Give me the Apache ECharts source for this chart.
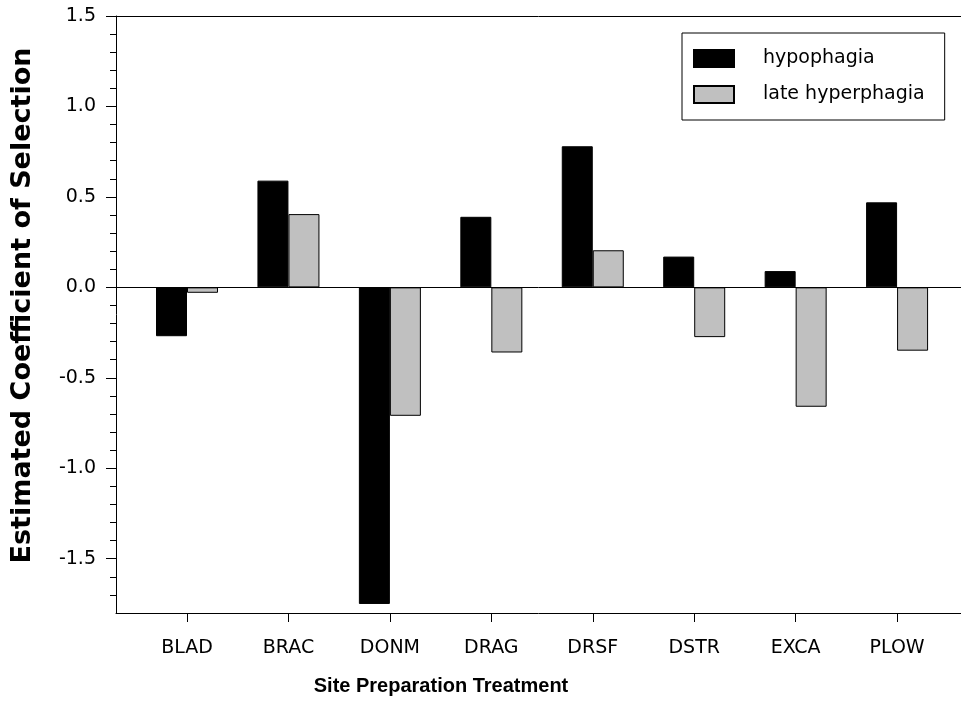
<!DOCTYPE html>
<html>
<head>
<meta charset="utf-8">
<title>Estimated Coefficient of Selection</title>
<script src="https://cdn.jsdelivr.net/npm/echarts@6/dist/echarts.min.js"></script>
<style>
  html, body { margin: 0; padding: 0; background: #fff; }
  #chart { width: 961px; height: 727px; }
</style>
</head>
<body>
<div id="chart"></div>
<script>
// treatments, placed at x = 1..8
const categories = ['BLAD', 'BRAC', 'DONM', 'DRAG', 'DRSF', 'DSTR', 'EXCA', 'PLOW'];
const hypophagia = [-0.27, 0.59, -1.75, 0.39, 0.78, 0.17, 0.09, 0.47];
const lateHyperphagia = [-0.03, 0.405, -0.71, -0.36, 0.205, -0.275, -0.66, -0.35];
const yMajor = [-1.5, -1.0, -0.5, 0.0, 0.5, 1.0, 1.5];
const yMinor = [-1.7, -1.6, -1.4, -1.3, -1.2, -1.1, -0.9, -0.8, -0.7, -0.6,
                -0.4, -0.3, -0.2, -0.1, 0.1, 0.2, 0.3, 0.4, 0.6, 0.7, 0.8, 0.9,
                1.1, 1.2, 1.3, 1.4];

// the reference text is wide, DejaVu gets closer than Arial
const font = '"DejaVu Sans", "Liberation Sans", Arial, sans-serif';
const titleFont = '"Liberation Sans", Arial, sans-serif';
const xPos = categories.map((c, i) => i + 1);

const chart = echarts.init(document.getElementById('chart'));

const option = {
    animation: false,
    backgroundColor: '#fff',
    textStyle: { fontFamily: font },
    grid: { left: 116, top: 16, right: 0, bottom: 114 },
    legend: {
        orient: 'vertical',
        left: 682,
        top: 33,
        padding: [16, 20, 16, 11],
        borderColor: '#000',
        borderWidth: 1,
        borderRadius: 0,
        itemWidth: 40,
        itemHeight: 17,
        itemGap: 17,
        icon: 'rect',
        textStyle: { fontSize: 19, color: '#000', fontFamily: font, padding: [0, 0, 0, 24] },
        data: ['hypophagia', 'late hyperphagia']
    },
    xAxis: [
        {
            type: 'value',
            min: 0.3,
            max: 8.63,
            axisLine: { onZero: false, lineStyle: { color: '#000', width: 1 } },
            axisTick: { customValues: xPos, length: 9, lineStyle: { color: '#000' } },
            axisLabel: {
                customValues: xPos,
                margin: 26,
                fontSize: 19,
                color: '#000',
                fontFamily: font,
                formatter: v => categories[Math.round(v) - 1] || ''
            },
            splitLine: { show: false }
        },
        {
            type: 'value',
            position: 'top',
            min: 0.3,
            max: 8.63,
            axisLine: { show: true, onZero: false, lineStyle: { color: '#000', width: 1 } },
            axisTick: { show: false },
            axisLabel: { show: false },
            splitLine: { show: false }
        }
    ],
    yAxis: [
        {
            type: 'value',
            min: -1.8,
            max: 1.5,
            name: 'Estimated Coefficient of Selection',
            nameLocation: 'middle',
            nameGap: 80,
            nameTextStyle: { fontSize: 27, fontWeight: 'bold', color: '#000', fontFamily: font, padding: [0, 0, 0, 18] },
            axisLine: { show: true, onZero: false, lineStyle: { color: '#000', width: 1 } },
            axisTick: { customValues: yMajor, length: 10, lineStyle: { color: '#000' } },
            axisLabel: {
                customValues: yMajor,
                margin: 20,
                fontSize: 19,
                color: '#000',
                fontFamily: font,
                formatter: v => v.toFixed(1)
            },
            splitLine: { show: false }
        },
        {
            type: 'value',
            min: -1.8,
            max: 1.5,
            position: 'left',
            axisLine: { show: false, onZero: false },
            axisTick: { customValues: yMinor, length: 6, lineStyle: { color: '#000' } },
            axisLabel: { show: false },
            splitLine: { show: false }
        }
    ],
    series: [
        {
            name: 'hypophagia',
            type: 'bar',
            barWidth: 31,
            barGap: '0%',
            itemStyle: { color: '#000', borderColor: '#000', borderWidth: 1 },
            data: xPos.map((x, i) => [x, hypophagia[i]]),
            markLine: {
                silent: true,
                symbol: 'none',
                label: { show: false },
                lineStyle: { color: '#000', width: 1, type: 'solid' },
                data: [{ yAxis: 0 }]
            }
        },
        {
            name: 'late hyperphagia',
            type: 'bar',
            barWidth: 31,
            barGap: '0%',
            itemStyle: { color: '#c0c0c0', borderColor: '#000', borderWidth: 1 },
            data: xPos.map((x, i) => [x, lateHyperphagia[i]])
        }
    ],
    graphic: [
        {
            type: 'text',
            x: 441,
            y: 686,
            style: {
                text: 'Site Preparation Treatment',
                font: 'bold 20px ' + titleFont,
                fill: '#000',
                textAlign: 'center',
                textVerticalAlign: 'middle'
            }
        }
    ]
};

chart.setOption(option);
</script>
</body>
</html>
